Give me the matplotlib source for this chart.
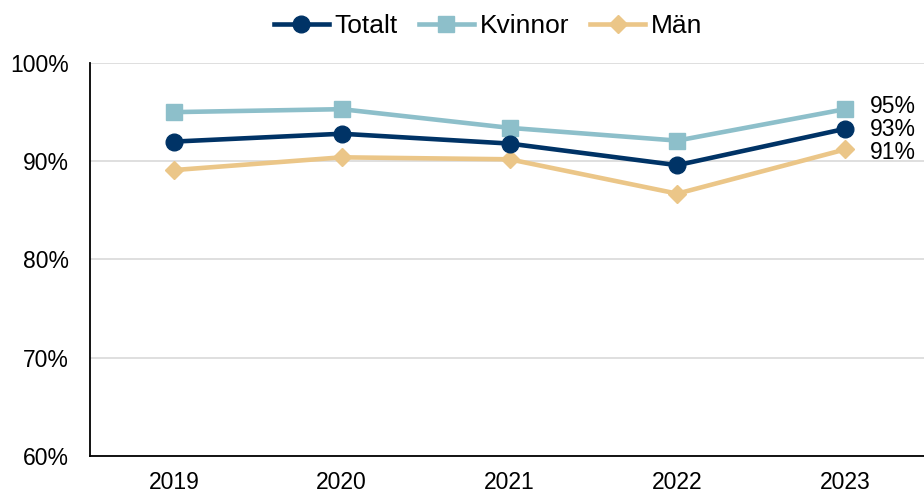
import matplotlib
matplotlib.use('Agg')
import matplotlib.pyplot as plt
from matplotlib.ticker import FuncFormatter

# data
years = ['2019', '2020', '2021', '2022', '2023']
totalt = [92.0, 92.8, 91.8, 89.6, 93.3]
kvinnor = [95.0, 95.3, 93.4, 92.1, 95.3]
man = [89.1, 90.4, 90.2, 86.7, 91.2]
end_labels = ['95%', '93%', '91%']

plt.rcParams['font.family'] = ['Liberation Sans', 'DejaVu Sans']

fig = plt.figure(figsize=(9.24, 4.94), dpi=100)
ax = fig.add_axes([90 / 924, 38 / 494, 839 / 924, 393 / 494])

x = list(range(len(years)))
ax.plot(x, totalt, color='#003366', lw=3.3, marker='o', ms=12, label='Totalt', zorder=4)
ax.plot(x, kvinnor, color='#8dbfca', lw=3.3, marker='s', ms=11, label='Kvinnor', zorder=3)
ax.plot(x, man, color='#ebc688', lw=3.3, marker='D', ms=9.5, label='Män', zorder=3)

# värden vid sista punkten
fs = 16.5
ax.text(x[-1] + 0.15, kvinnor[-1] + 0.3, end_labels[0], fontsize=fs, va='center', ha='left')
ax.text(x[-1] + 0.15, totalt[-1] - 0.1, end_labels[1], fontsize=fs, va='center', ha='left')
ax.text(x[-1] + 0.15, man[-1] - 0.3, end_labels[2], fontsize=fs, va='center', ha='left')

ax.set_xlim(-0.5, 4.5)
ax.set_ylim(60, 100)
ax.set_yticks([60, 70, 80, 90, 100])
ax.yaxis.set_major_formatter(FuncFormatter(lambda v, p: f'{v:.0f}%'))
ax.set_xticks(x)
ax.set_xticklabels(years)
ax.tick_params(axis='both', length=0, labelsize=fs)
ax.tick_params(axis='y', pad=15)
ax.tick_params(axis='x', pad=11)
ax.grid(axis='y', color='#d9d9d9', lw=1.2)
ax.set_axisbelow(True)
for s in ['top', 'right']:
    ax.spines[s].set_visible(False)
ax.spines['left'].set_linewidth(1.3)
ax.spines['bottom'].set_linewidth(1.3)

fig.legend(loc='upper center', bbox_to_anchor=(0.528, 1.02), ncol=3, frameon=False,
           fontsize=19, handlelength=2.1, columnspacing=0.8, handletextpad=0.2)

fig.savefig('out.png', dpi=100)
